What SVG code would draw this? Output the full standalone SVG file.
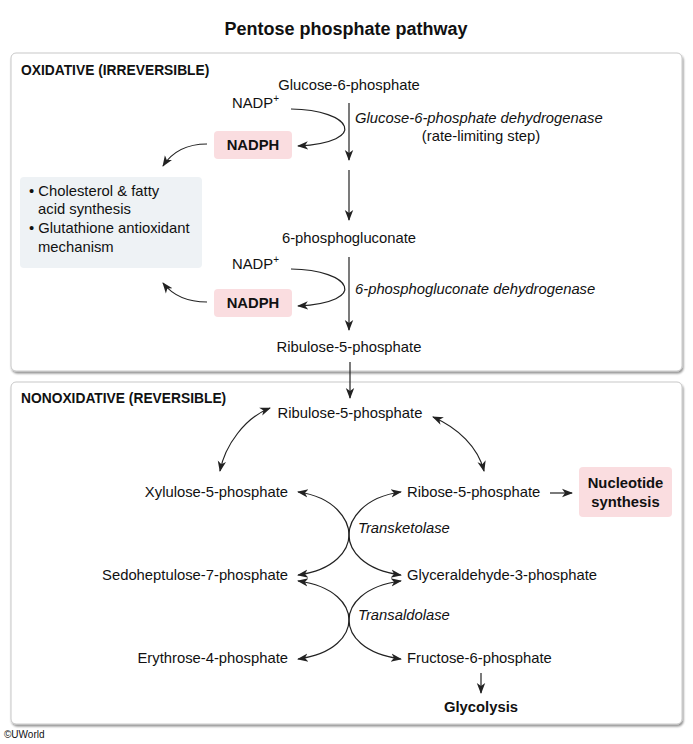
<svg xmlns="http://www.w3.org/2000/svg" width="693" height="744" viewBox="0 0 693 744">
<defs>
<marker id="ah" markerUnits="userSpaceOnUse" markerWidth="12" markerHeight="10" refX="10" refY="5" orient="auto-start-reverse" viewBox="0 0 12 10">
<path d="M0,0.8 L11,5 L0,9.2 L3,5 Z" fill="#222"/>
</marker>
<filter id="sh" x="-2%" y="-2%" width="104%" height="106%">
<feGaussianBlur in="SourceAlpha" stdDeviation="1.2"/>
<feOffset dx="1" dy="1.5" result="b"/>
<feComponentTransfer><feFuncA type="linear" slope="0.45"/></feComponentTransfer>
<feMerge><feMergeNode/><feMergeNode in="SourceGraphic"/></feMerge>
</filter>
</defs>
<style>
text{font-family:"Liberation Sans",Arial,sans-serif;fill:#111;}
.t{font-size:14.8px;}
.b{font-weight:bold;}
.i{font-style:italic;}
.hd{font-size:13.8px;font-weight:bold;}
.panel{fill:#fff;stroke:#c8c8c8;stroke-width:1;}
.pink{fill:#fadde0;}
.gray{fill:#eef2f5;}
.c{fill:none;stroke:#222;stroke-width:1.2;}
</style>
<rect width="693" height="744" fill="#fff"/>
<text x="346" y="35" text-anchor="middle" class="b" style="font-size:18px">Pentose phosphate pathway</text>

<g id="panel-oxidative">
<rect class="panel" x="11" y="53" width="671" height="318" rx="5" filter="url(#sh)"/>
<text x="21" y="75" class="hd">OXIDATIVE (IRREVERSIBLE)</text>
</g>
<g id="panel-nonoxidative">
<rect class="panel" x="11" y="382" width="671" height="342" rx="5" filter="url(#sh)"/>
<text x="21" y="403" class="hd">NONOXIDATIVE (REVERSIBLE)</text>
</g>

<g id="glucose6p"><text x="349" y="90" text-anchor="middle" class="t">Glucose-6-phosphate</text></g>
<g id="phosphogluconate"><text x="349" y="243" text-anchor="middle" class="t">6-phosphogluconate</text></g>
<g id="ribulose5p-top"><text x="349" y="352" text-anchor="middle" class="t">Ribulose-5-phosphate</text></g>
<g id="nadp1"><text x="232" y="108" class="t">NADP<tspan dy="-6" style="font-size:10px">+</tspan></text></g>
<g id="nadp2"><text x="232" y="269" class="t">NADP<tspan dy="-6" style="font-size:10px">+</tspan></text></g>
<g id="nadph1"><rect class="pink" x="214" y="131" width="78" height="28" rx="4"/><text x="253" y="150" text-anchor="middle" class="t b">NADPH</text></g>
<g id="nadph2"><rect class="pink" x="214" y="289" width="78" height="28" rx="4"/><text x="253" y="308" text-anchor="middle" class="t b">NADPH</text></g>
<g id="uses">
<rect class="gray" x="20" y="177" width="182" height="91" rx="4"/>
<text class="t"><tspan x="29" y="196">• Cholesterol &amp; fatty</tspan><tspan x="38" y="214">acid synthesis</tspan><tspan x="29" y="233">• Glutathione antioxidant</tspan><tspan x="38" y="252">mechanism</tspan></text>
</g>
<g id="g6pd"><text x="355" y="123" class="t i">Glucose-6-phosphate dehydrogenase</text><text x="481" y="141" text-anchor="middle" class="t">(rate-limiting step)</text></g>
<g id="pgd"><text x="355" y="294" class="t i">6-phosphogluconate dehydrogenase</text></g>

<g id="ribulose5p"><text x="350" y="418" text-anchor="middle" class="t">Ribulose-5-phosphate</text></g>
<g id="xylulose5p"><text x="288" y="497" text-anchor="end" class="t">Xylulose-5-phosphate</text></g>
<g id="sedoheptulose7p"><text x="288" y="580" text-anchor="end" class="t">Sedoheptulose-7-phosphate</text></g>
<g id="erythrose4p"><text x="288" y="663" text-anchor="end" class="t">Erythrose-4-phosphate</text></g>
<g id="ribose5p"><text x="407" y="497" class="t">Ribose-5-phosphate</text></g>
<g id="g3p"><text x="407" y="580" class="t">Glyceraldehyde-3-phosphate</text></g>
<g id="fructose6p"><text x="407" y="663" class="t">Fructose-6-phosphate</text></g>
<g id="transketolase"><text x="358" y="533" class="t i">Transketolase</text></g>
<g id="transaldolase"><text x="358" y="620" class="t i">Transaldolase</text></g>
<g id="nucleotide"><rect class="pink" x="579" y="467" width="93" height="50" rx="4"/><text x="625.5" y="488" text-anchor="middle" class="t b">Nucleotide</text><text x="625.5" y="507" text-anchor="middle" class="t b">synthesis</text></g>
<g id="glycolysis"><text x="481" y="712" text-anchor="middle" class="t b">Glycolysis</text></g>

<g id="connectors">
<line class="c" x1="349" y1="103" x2="349" y2="160" marker-end="url(#ah)"/>
<line class="c" x1="349" y1="170" x2="349" y2="220" marker-end="url(#ah)"/>
<line class="c" x1="349" y1="257" x2="349" y2="330" marker-end="url(#ah)"/>
<line class="c" x1="350" y1="362" x2="350" y2="398" marker-end="url(#ah)"/>
<path class="c" d="M291 109 C352 110,370 142,298 146" marker-end="url(#ah)"/>
<path class="c" d="M291 269 C352 270,370 302,298 306" marker-end="url(#ah)"/>
<path class="c" d="M207 144 C190 144,174 149,163 166" marker-end="url(#ah)"/>
<path class="c" d="M207 302 C190 302,174 297,163 283" marker-end="url(#ah)"/>
<path class="c" d="M270 408 C245 418,225 445,220 471" marker-start="url(#ah)" marker-end="url(#ah)"/>
<path class="c" d="M433 417 C458 428,478 447,484 471" marker-start="url(#ah)" marker-end="url(#ah)"/>
<path class="c" d="M298 492 C335 497,349 520,349 535 C349 550,335 570,298 575" marker-start="url(#ah)" marker-end="url(#ah)"/>
<path class="c" d="M401 492 C363 497,349 520,349 535 C349 550,363 570,401 575" marker-start="url(#ah)" marker-end="url(#ah)"/>
<path class="c" d="M298 581 C335 586,349 605,349 620 C349 635,335 654,298 659" marker-start="url(#ah)" marker-end="url(#ah)"/>
<path class="c" d="M401 581 C363 586,349 605,349 620 C349 635,363 654,401 659" marker-start="url(#ah)" marker-end="url(#ah)"/>
<line class="c" x1="550" y1="493" x2="572" y2="493" marker-end="url(#ah)"/>
<line class="c" x1="481" y1="673" x2="481" y2="693" marker-end="url(#ah)"/>
</g>
<text x="4" y="738" style="font-size:10px">©UWorld</text>
</svg>
